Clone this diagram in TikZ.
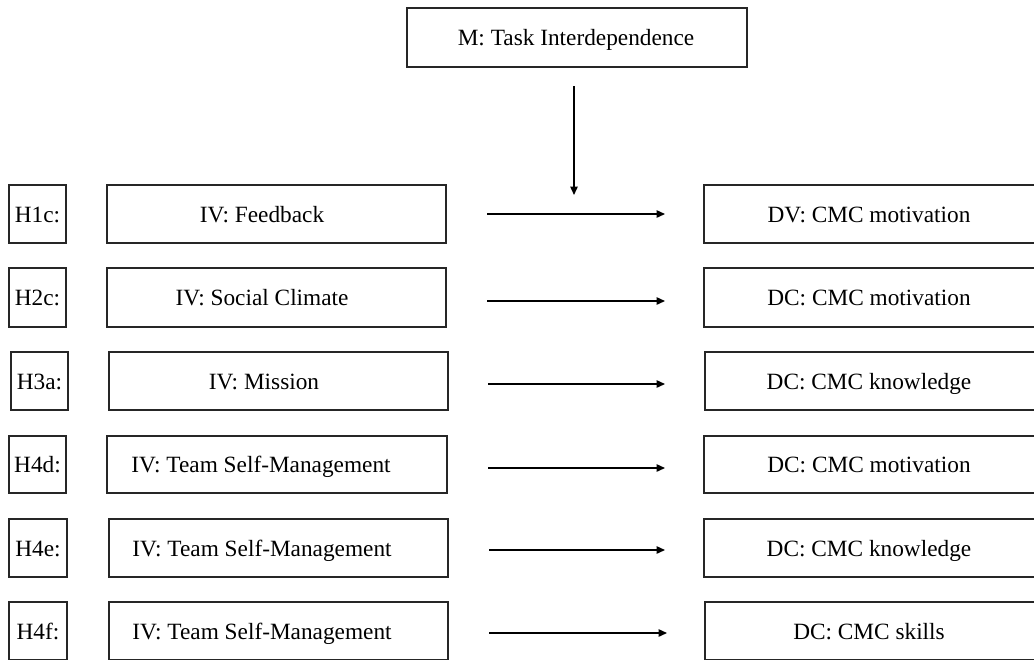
\documentclass[tikz,border=0pt]{standalone}
\usepackage{fontspec}
\setmainfont{Liberation Serif}
\usetikzlibrary{arrows.meta}
\begin{document}
\begin{tikzpicture}[x=1pt,y=-1pt,
  box/.style={draw=black!85,line width=1.4pt,inner sep=0pt,minimum height=58pt},
  txt/.style={inner sep=0pt,text height=16pt,text depth=0pt,font=\fontsize{23.3}{28}\selectfont},
  arr/.style={line width=1.4pt,-{Triangle[length=8.5pt,width=7.5pt]}}]
\useasboundingbox (0,0) rectangle (1034,659);
% moderator
\node[box,minimum width=340pt,minimum height=59pt] (m) at (577,37.5) {};
\node[txt] (mt) at (576,37.5) {M: Task Interdependence};
\coordinate (ms) at (574,86);
\coordinate (me) at (574,195);
\draw[arr] (ms) -- (me);
% row 1
\node[box,minimum width=57pt] (h1) at (37.5,214) {};
\node[txt] (h1t) at (37.5,214) {H1c:};
\node[box,minimum width=339pt] (iv1) at (276.5,214) {};
\node[txt] (iv1t) at (262,214) {IV: Feedback};
\node[box,minimum width=336pt] (dv1) at (872,214) {};
\node[txt] (dv1t) at (869,214) {DV: CMC motivation};
\coordinate (a1s) at (487,214); \coordinate (a1e) at (665,214);
\draw[arr] (a1s) -- (a1e);
% row 2
\node[box,minimum width=57pt,minimum height=59pt] (h2) at (37.5,297.5) {};
\node[txt] (h2t) at (37.5,297.5) {H2c:};
\node[box,minimum width=339pt,minimum height=59pt] (iv2) at (276.5,297.5) {};
\node[txt] (iv2t) at (262,297.5) {IV: Social Climate};
\node[box,minimum width=336pt,minimum height=59pt] (dv2) at (872,297.5) {};
\node[txt] (dv2t) at (869,297.5) {DC: CMC motivation};
\coordinate (a2s) at (487,301); \coordinate (a2e) at (665,301);
\draw[arr] (a2s) -- (a2e);
% row 3
\node[box,minimum width=57pt] (h3) at (39.5,381) {};
\node[txt] (h3t) at (39.5,381) {H3a:};
\node[box,minimum width=339pt] (iv3) at (278.5,381) {};
\node[txt] (iv3t) at (264,381) {IV: Mission};
\node[box,minimum width=335pt] (dv3) at (872.5,381) {};
\node[txt] (dv3t) at (869,381) {DC: CMC knowledge};
\coordinate (a3s) at (488,384); \coordinate (a3e) at (665,384);
\draw[arr] (a3s) -- (a3e);
% row 4
\node[box,minimum width=57pt,minimum height=57pt] (h4) at (37.5,464.5) {};
\node[txt] (h4t) at (37.5,464.5) {H4d:};
\node[box,minimum width=340pt,minimum height=57pt] (iv4) at (277,464.5) {};
\node[txt] (iv4t) at (261,464.5) {IV: Team Self-Management};
\node[box,minimum width=336pt,minimum height=57pt] (dv4) at (872,464.5) {};
\node[txt] (dv4t) at (869,464.5) {DC: CMC motivation};
\coordinate (a4s) at (488,468); \coordinate (a4e) at (665,468);
\draw[arr] (a4s) -- (a4e);
% row 5
\node[box,minimum width=58pt] (h5) at (38,548) {};
\node[txt] (h5t) at (38,548) {H4e:};
\node[box,minimum width=339pt] (iv5) at (278.5,548) {};
\node[txt] (iv5t) at (262,548) {IV: Team Self-Management};
\node[box,minimum width=336pt] (dv5) at (872,548) {};
\node[txt] (dv5t) at (869,548) {DC: CMC knowledge};
\coordinate (a5s) at (489,550); \coordinate (a5e) at (665,550);
\draw[arr] (a5s) -- (a5e);
% row 6
\node[box,minimum width=58pt] (h6) at (38,631) {};
\node[txt] (h6t) at (38,631) {H4f:};
\node[box,minimum width=339pt] (iv6) at (278.5,631) {};
\node[txt] (iv6t) at (262,631) {IV: Team Self-Management};
\node[box,minimum width=335pt] (dv6) at (872.5,631) {};
\node[txt] (dv6t) at (869,631) {DC: CMC skills};
\coordinate (a6s) at (489,633); \coordinate (a6e) at (667,633);
\draw[arr] (a6s) -- (a6e);
\end{tikzpicture}
\end{document}
